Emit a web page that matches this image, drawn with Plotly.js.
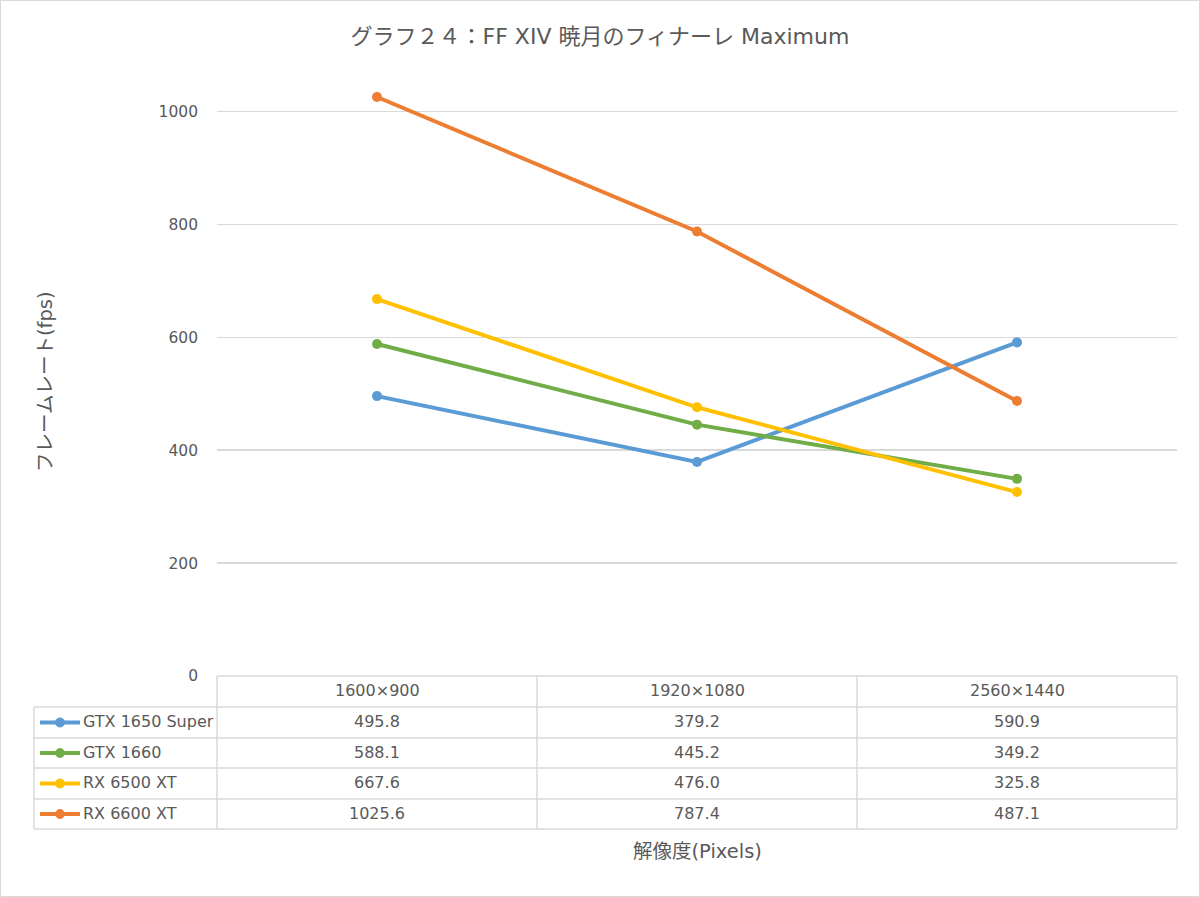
<!DOCTYPE html>
<html><head><meta charset="utf-8">
<script src="https://cdn.plot.ly/plotly-3.0.1.min.js"></script>
<style>html,body{margin:0;padding:0;background:#fff}#c{width:1200px;height:897px}</style>
</head><body><div id="c"></div>
<script>
const categories = ["1600×900", "1920×1080", "2560×1440"];
const seriesNames = ["GTX 1650 Super", "GTX 1660", "RX 6500 XT", "RX 6600 XT"];
const gtx1650s = [495.8, 379.2, 590.9];
const gtx1660 = [588.1, 445.2, 349.2];
const rx6500xt = [667.6, 476.0, 325.8];
const rx6600xt = [1025.6, 787.4, 487.1];
const yTicks = [0, 200, 400, 600, 800, 1000];
const colors = ["#5B9BD5", "#70AD47", "#FFC000", "#ED7D31"];
const allSeries = [gtx1650s, gtx1660, rx6500xt, rx6600xt];

const W = 1200, H = 897;
const L = 217, R = 1177, T = 55, B = 676;
const pw = R - L, ph = B - T;
const px = x => (x - L) / pw;
const py = y => (B - y) / ph;
const font = '"DejaVu Sans", "Noto Sans CJK JP", sans-serif';
const txt = '#595959';
const grid = '#D9D9D9';

const traces = allSeries.map((s, i) => ({
  type: 'scatter', mode: 'lines+markers', x: categories, y: s, name: seriesNames[i],
  line: {color: colors[i], width: 4}, marker: {color: colors[i], size: 10},
  cliponaxis: false, showlegend: false
}));

const shapes = [], annotations = [];
const line = (x0, y0, x1, y1, color, w) => shapes.push({type: 'line', xref: 'paper', yref: 'paper',
  x0: px(x0), y0: py(y0), x1: px(x1), y1: py(y1), line: {color: color, width: w}});

// outer border
shapes.push({type: 'rect', xref: 'paper', yref: 'paper', x0: px(0.5), y0: py(0.5), x1: px(W - 0.5), y1: py(H - 0.5), line: {color: '#D9D9D9', width: 1}});

// data table
const rowTop = [676, 707, 738, 768, 799, 829];
const colX = [217, 537, 857, 1177];
line(217, 676, 1177, 676, grid, 1.5);
for (let r = 1; r < rowTop.length; r++) line(34, rowTop[r], 1177, rowTop[r], grid, 1.5);
line(34, 707, 34, 829, grid, 1.5);
colX.forEach(x => line(x, 676, x, 829, grid, 1.5));

const fs = 16;
categories.forEach((c, j) => {
  annotations.push({xref: 'paper', yref: 'paper', x: px((colX[j] + colX[j + 1]) / 2), y: py(690),
    text: c, showarrow: false, font: {family: font, size: fs, color: txt}, xanchor: 'center', yanchor: 'middle'});
});
allSeries.forEach((s, i) => {
  const cy = (rowTop[i + 1] + rowTop[i + 2]) / 2;
  line(40, cy, 80, cy, colors[i], 4);
  shapes.push({type: 'circle', xref: 'paper', yref: 'paper', x0: px(55.5), x1: px(64.5), y0: py(cy - 4.5), y1: py(cy + 4.5),
    fillcolor: colors[i], line: {color: colors[i], width: 1}});
  annotations.push({xref: 'paper', yref: 'paper', x: px(81), y: py(cy - 1), text: seriesNames[i], showarrow: false,
    font: {family: font, size: fs, color: txt}, xanchor: 'left', yanchor: 'middle'});
  s.forEach((v, j) => {
    annotations.push({xref: 'paper', yref: 'paper', x: px((colX[j] + colX[j + 1]) / 2), y: py(cy - 1),
      text: v.toFixed(1), showarrow: false, font: {family: font, size: fs, color: txt}, xanchor: 'center', yanchor: 'middle'});
  });
});

// axis titles
annotations.push({xref: 'paper', yref: 'paper', x: px(697), y: py(851), text: '解像度(Pixels)', showarrow: false,
  font: {family: font, size: 19.5, color: txt}, xanchor: 'center', yanchor: 'middle'});
annotations.push({xref: 'paper', yref: 'paper', x: px(45), y: py(382), text: 'フレームレート(fps)', showarrow: false, textangle: -90,
  font: {family: font, size: 19.5, color: txt}, xanchor: 'center', yanchor: 'middle'});

const layout = {
  width: W, height: H,
  margin: {l: L, r: W - R, t: T, b: H - B, pad: 0},
  paper_bgcolor: '#fff', plot_bgcolor: '#fff',
  title: {text: 'グラフ２４：FF XIV 暁月のフィナーレ Maximum', x: 0.5, xref: 'container', xanchor: 'center', y: 1 - 36 / H, yanchor: 'middle',
    font: {family: font, size: 22, color: txt}},
  xaxis: {type: 'category', range: [-0.5, 2.5], showticklabels: false, showgrid: false, zeroline: false, showline: false, ticks: '', fixedrange: true},
  yaxis: {range: [0, 1100], tickvals: yTicks, ticktext: yTicks.map(String), showgrid: true, gridcolor: grid, gridwidth: 1.5,
    zeroline: false, showline: false, ticks: '', ticklabelstandoff: 18,
    tickfont: {family: font, size: 15.5, color: txt}},
  shapes: shapes, annotations: annotations, showlegend: false
};
Plotly.newPlot('c', traces, layout, {displayModeBar: false, staticPlot: true});
</script></body></html>
